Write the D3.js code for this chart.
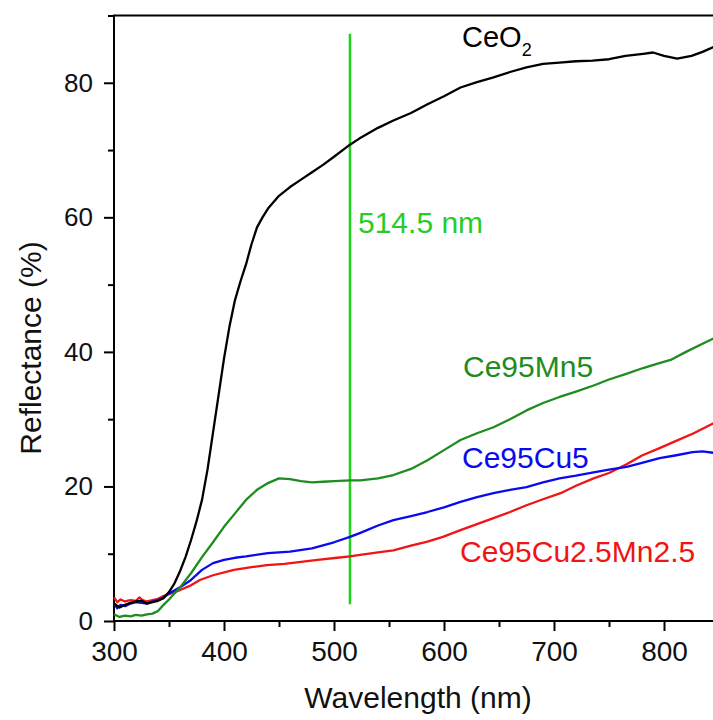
<!DOCTYPE html>
<html>
<head>
<meta charset="utf-8">
<script src="https://cdn.jsdelivr.net/npm/d3@7"></script>
<style>
  html, body { margin: 0; padding: 0; background: #fff; }
  svg { display: block; font-family: "Liberation Sans", Arial, sans-serif; }
</style>
</head>
<body>
<svg id="chart" width="713" height="720"></svg>
<script>
// ---- data ----
const ceo2X = [300,305,310,315,320,325,330,335,340,345,350,355,360,365,370,375,380,385,390,395,400,405,410,415,420,425,430,435,440,450,460,470,480,490,500,514.5,523,540,554,570,585,600,615,630,645,660,675,690,705,720,735,750,765,781,790,800,812,825,835,845,850];
const ceo2Y = [2.6,2.0,2.4,2.7,2.9,3.0,2.6,2.8,3.0,3.4,4.3,5.6,7.4,9.5,12,14.8,18,22.5,28,33.5,39,43.8,47.7,50.5,53,56,58.5,60,61.3,63.2,64.5,65.6,66.7,67.8,69,70.8,71.7,73.3,74.4,75.5,76.8,78,79.3,80.1,80.8,81.6,82.3,82.8,83,83.2,83.3,83.5,84,84.3,84.5,84.0,83.6,84.0,84.6,85.3,85.5];

const mnX = [300,305,310,315,320,325,330,335,340,345,350,355,360,370,380,390,400,410,420,430,440,450,460,470,480,490,500,514.5,524,540,554,570,585,600,615,630,645,660,675,690,705,720,736,750,765,781,795,806,820,835,845,850];
const mnY = [1.0,0.6,0.8,0.7,0.9,0.8,1.0,1.1,1.5,2.4,3.2,4.1,5,7.1,9.5,11.7,14,16,18,19.5,20.5,21.2,21.1,20.8,20.6,20.7,20.8,20.9,20.9,21.2,21.7,22.6,23.9,25.4,26.9,27.9,28.8,30,31.3,32.4,33.3,34.1,35,35.9,36.7,37.6,38.3,38.8,40,41.2,42,42.4];

const cuX = [300,303,306,310,315,320,325,330,335,340,345,350,360,370,380,390,400,410,420,440,460,480,500,514.5,524,540,554,570,585,600,615,630,645,660,675,690,705,720,736,750,766,780,796,810,826,835,845,850];
const cuY = [2.6,1.9,2.4,2.2,2.6,2.8,2.7,2.6,2.9,3.1,3.5,4.1,5,6.1,7.6,8.6,9.1,9.4,9.6,10.1,10.3,10.8,11.7,12.5,13.1,14.2,15,15.6,16.2,16.9,17.7,18.4,19,19.5,19.9,20.6,21.2,21.6,22.1,22.5,22.9,23.5,24.2,24.6,25.1,25.2,25,25];

const cuMnX = [300,303,306,310,315,320,323,326,330,335,340,345,350,360,370,378,390,409,425,439,455,470,485,503,514.5,527,540,554,570,585,599,615,630,645,660,675,690,706,720,736,750,766,780,796,810,827,845,850];
const cuMnY = [3.5,2.8,3.2,2.9,3.1,3.0,3.5,3.1,2.9,3.1,3.3,3.7,4.0,4.6,5.3,6.1,6.8,7.6,8.0,8.3,8.5,8.8,9.1,9.4,9.6,9.9,10.2,10.5,11.2,11.8,12.5,13.5,14.4,15.3,16.2,17.2,18.1,19,20.1,21.2,22.0,23.3,24.6,25.7,26.7,27.9,29.4,29.8];

const seriesNames = ["CeO2", "Ce95Mn5", "Ce95Cu5", "Ce95Cu2.5Mn2.5"];
const seriesColors = ["#000000", "#1e8c1e", "#0a0af0", "#f01414"];
const xTicks = [300, 400, 500, 600, 700, 800];
const yTicks = [0, 20, 40, 60, 80];
const laserNm = 514.5;
const laserRange = [2.5, 87.3];

// ---- layout ----
const svg = d3.select("#chart");
const mLeft = 114, mRight = 719, mTop = 15.5, mBottom = 621;
const x = d3.scaleLinear().domain([300, 850]).range([mLeft, mRight]);
const y = d3.scaleLinear().domain([0, 90]).range([mBottom, mTop]);

const line = d3.line().x(d => x(d[0])).y(d => y(d[1]));
const series = [
  {x: ceo2X, y: ceo2Y},
  {x: mnX, y: mnY},
  {x: cuX, y: cuY},
  {x: cuMnX, y: cuMnY}
];

// frame
svg.append("rect").attr("x", mLeft).attr("y", mTop)
  .attr("width", mRight - mLeft).attr("height", mBottom - mTop)
  .attr("fill", "none").attr("stroke", "#000").attr("stroke-width", 2);

// laser line
svg.append("line")
  .attr("x1", x(laserNm)).attr("x2", x(laserNm))
  .attr("y1", y(laserRange[0])).attr("y2", y(laserRange[1]))
  .attr("stroke", "#1ed21e").attr("stroke-width", 2.5);

// series
[3, 2, 1, 0].forEach(i => {
  const s = series[i];
  svg.append("path")
    .datum(s.x.map((v, j) => [v, s.y[j]]))
    .attr("d", line)
    .attr("fill", "none")
    .attr("stroke", seriesColors[i])
    .attr("stroke-width", 2.3)
    .attr("stroke-linejoin", "round");
});

// axes
const xAxis = svg.append("g").attr("transform", `translate(0,${mBottom})`)
  .call(d3.axisBottom(x).tickValues(xTicks).tickSize(10).tickPadding(10).tickFormat(d3.format("d")));
const xMinor = svg.append("g").attr("transform", `translate(0,${mBottom})`)
  .call(d3.axisBottom(x).tickValues(xTicks.map(t => t + 50)).tickSize(6).tickFormat(""));
const yAxis = svg.append("g").attr("transform", `translate(${mLeft},0)`)
  .call(d3.axisLeft(y).tickValues(yTicks).tickSize(10).tickPadding(11).tickFormat(d3.format("d")));
const yMinor = svg.append("g").attr("transform", `translate(${mLeft},0)`)
  .call(d3.axisLeft(y).tickValues(yTicks.map(t => t + 10)).tickSize(6).tickFormat(""));

[xAxis, xMinor, yAxis, yMinor].forEach(g => {
  g.select(".domain").remove();
  g.selectAll(".tick line").attr("stroke", "#000").attr("stroke-width", 2);
  g.selectAll(".tick text").attr("fill", "#111")
    .style("font-family", "'Liberation Sans', Arial, sans-serif");
});
xAxis.selectAll(".tick text").style("font-size", "28px");
yAxis.selectAll(".tick text").style("font-size", "26px");

// axis titles
svg.append("text").attr("x", 418).attr("y", 708)
  .attr("text-anchor", "middle").style("font-size", "30px").attr("fill", "#111")
  .text("Wavelength (nm)");
svg.append("text")
  .attr("transform", "translate(41,348) rotate(-90)")
  .attr("text-anchor", "middle").style("font-size", "30px").attr("fill", "#111")
  .text("Reflectance (%)");

// annotations
const ceo = svg.append("text").attr("x", 462).attr("y", 47).style("font-size", "29px").attr("fill", "#000");
ceo.append("tspan").text("CeO");
ceo.append("tspan").attr("dy", 9).style("font-size", "18px").text("2");

svg.append("text").attr("x", 358).attr("y", 233).style("font-size", "30px")
  .attr("fill", "#28cc28").text(laserNm + " nm");

const labelPos = [null, [463, 377], [462, 468], [460, 562]];
[1, 2, 3].forEach(i => {
  svg.append("text").attr("x", labelPos[i][0]).attr("y", labelPos[i][1])
    .style("font-size", "30px").attr("fill", seriesColors[i]).text(seriesNames[i]);
});
</script>
</body>
</html>
